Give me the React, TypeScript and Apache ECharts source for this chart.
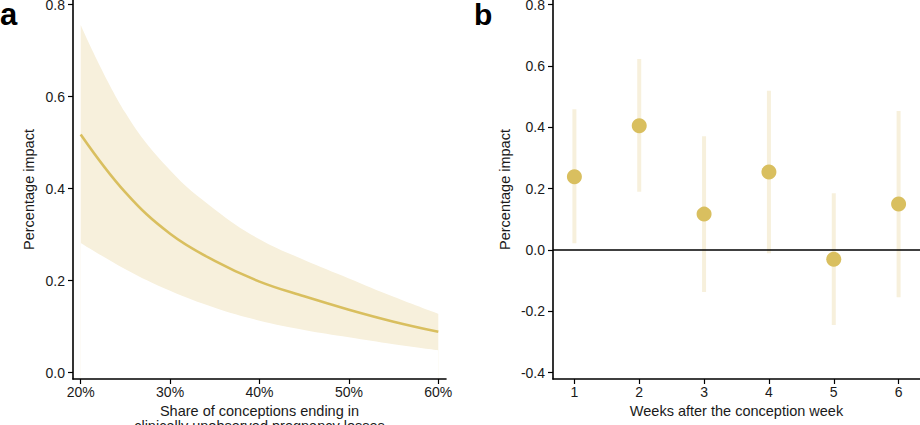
import React, { useEffect, useRef } from "react";
import * as echarts from "echarts";

// Panel a: share of conceptions ending in clinically unobserved pregnancy losses (%)
const shares = [20, 25, 30, 35, 40, 45, 50, 55, 60];
const impactLine = [0.518, 0.392, 0.302, 0.243, 0.198, 0.166, 0.137, 0.111, 0.089];
const impactUpper = [0.756, 0.565, 0.44, 0.355, 0.29, 0.245, 0.205, 0.165, 0.128];
const impactLower = [0.282, 0.225, 0.178, 0.141, 0.113, 0.093, 0.077, 0.062, 0.049];
const shareTicks = [20, 30, 40, 50, 60];
const leftYTicks = [0, 0.2, 0.4, 0.6, 0.8];

// Panel b: weeks after the conception week
const weeks = [1, 2, 3, 4, 5, 6];
const weekEst = [0.239, 0.405, 0.117, 0.254, -0.03, 0.15];
const weekLo = [0.022, 0.19, -0.137, -0.011, -0.245, -0.154];
const weekHi = [0.459, 0.623, 0.371, 0.519, 0.185, 0.453];
const rightYTicks = [-0.4, -0.2, 0, 0.2, 0.4, 0.6, 0.8];

const FONT = "'Liberation Sans', Arial, Helvetica, sans-serif";
const GOLD = "#D9BF5F";
const PALE = "#F7F0DC";
const SMOOTH = 0.4;

export default function App() {
  const ref = useRef<HTMLDivElement>(null);
  useEffect(() => {
    document.body.style.margin = "0";
    if (!ref.current) return;
    const chart = echarts.init(ref.current, null, { renderer: "svg" });
    const axisText = { color: "#1a1a1a", fontSize: 14, fontFamily: FONT };
    const titleText = { color: "#1a1a1a", fontSize: 14.5, fontFamily: FONT };
    const axisLine = { show: true, onZero: false, lineStyle: { color: "#000", width: 1.6 } };
    const axisTick = (vals: number[]) => ({
      show: true,
      length: 5,
      lineStyle: { color: "#000", width: 1.2 },
      customValues: vals,
    });
    const fmtY = (v: number) => v.toFixed(1);
    const option: any = {
      animation: false,
      textStyle: { fontFamily: FONT },
      grid: [
        { left: 73, right: 474, top: 0, bottom: 46, containLabel: false, outerBoundsMode: "none" },
        { left: 553, right: 0, top: 0, bottom: 46, containLabel: false, outerBoundsMode: "none" },
      ],
      xAxis: [
        {
          type: "value",
          gridIndex: 0,
          min: 19.14,
          max: 60.86,
          z: 5,
          splitLine: { show: false },
          axisLine,
          axisTick: axisTick(shareTicks),
          axisLabel: {
            ...axisText,
            margin: 6,
            customValues: shareTicks,
            formatter: (v: number) => v + "%",
          },
          name: "Share of conceptions ending in\nclinically unobserved pregnancy losses",
          nameLocation: "middle",
          nameGap: 21,
          nameTextStyle: { ...titleText, lineHeight: 14.5 },
        },
        {
          type: "value",
          gridIndex: 1,
          min: 0.67,
          max: 6.33,
          z: 5,
          splitLine: { show: false },
          axisLine,
          axisTick: axisTick(weeks),
          axisLabel: { ...axisText, margin: 6, customValues: weeks },
          name: "Weeks after the conception week",
          nameLocation: "middle",
          nameGap: 21,
          nameTextStyle: { ...titleText, lineHeight: 14.5 },
        },
      ],
      yAxis: [
        {
          type: "value",
          gridIndex: 0,
          min: -0.0137,
          max: 0.8102,
          z: 5,
          splitLine: { show: false },
          axisLine,
          axisTick: axisTick(leftYTicks),
          axisLabel: { ...axisText, margin: 8, customValues: leftYTicks, formatter: fmtY },
          name: "Percentage impact",
          nameLocation: "middle",
          nameGap: 37,
          nameTextStyle: titleText,
        },
        {
          type: "value",
          gridIndex: 1,
          min: -0.4207,
          max: 0.8153,
          z: 5,
          splitLine: { show: false },
          axisLine,
          axisTick: axisTick(rightYTicks),
          axisLabel: { ...axisText, margin: 8, customValues: rightYTicks, formatter: fmtY },
          name: "Percentage impact",
          nameLocation: "middle",
          nameGap: 41,
          nameTextStyle: titleText,
        },
      ],
      series: [
        {
          type: "line",
          xAxisIndex: 0,
          yAxisIndex: 0,
          smooth: SMOOTH,
          symbol: "none",
          lineStyle: { opacity: 0 },
          areaStyle: { color: PALE, opacity: 1, origin: "start" },
          data: shares.map((s, i) => [s, impactUpper[i]]),
          z: 1,
        },
        {
          type: "line",
          xAxisIndex: 0,
          yAxisIndex: 0,
          smooth: SMOOTH,
          symbol: "none",
          lineStyle: { opacity: 0 },
          areaStyle: { color: "#ffffff", opacity: 1, origin: "start" },
          data: shares.map((s, i) => [s, impactLower[i]]),
          z: 1,
        },
        {
          type: "line",
          xAxisIndex: 0,
          yAxisIndex: 0,
          smooth: SMOOTH,
          symbol: "none",
          lineStyle: { color: GOLD, width: 2.6 },
          data: shares.map((s, i) => [s, impactLine[i]]),
          z: 2,
        },
        {
          type: "custom",
          xAxisIndex: 1,
          yAxisIndex: 1,
          data: weeks.map((w, i) => [w, weekLo[i], weekHi[i]]),
          encode: { x: 0, y: [1, 2] },
          renderItem: (params: any, api: any) => {
            const x = api.value(0);
            const p1 = api.coord([x, api.value(2)]);
            const p2 = api.coord([x, api.value(1)]);
            return {
              type: "rect",
              shape: { x: p1[0] - 2, y: p1[1], width: 4, height: p2[1] - p1[1] },
              style: { fill: PALE },
            };
          },
          z: 1,
        },
        {
          type: "scatter",
          xAxisIndex: 1,
          yAxisIndex: 1,
          symbolSize: 15,
          itemStyle: { color: GOLD, opacity: 1 },
          data: weeks.map((w, i) => [w, weekEst[i]]),
          markLine: {
            silent: true,
            symbol: "none",
            label: { show: false },
            lineStyle: { color: "#000", width: 1.6, type: "solid" },
            data: [{ yAxis: 0 }],
            z: 2,
          },
          z: 3,
        },
      ],
      graphic: [
        {
          type: "text",
          left: 0,
          top: -1,
          style: { text: "a", font: `bold 31px ${FONT}`, fill: "#000" },
        },
        {
          type: "text",
          left: 474,
          top: -1,
          style: { text: "b", font: `bold 30px ${FONT}`, fill: "#000" },
        },
      ],
    };
    chart.setOption(option);
    return () => chart.dispose();
  }, []);
  return <div ref={ref} style={{ width: 920, height: 425 }} />;
}
